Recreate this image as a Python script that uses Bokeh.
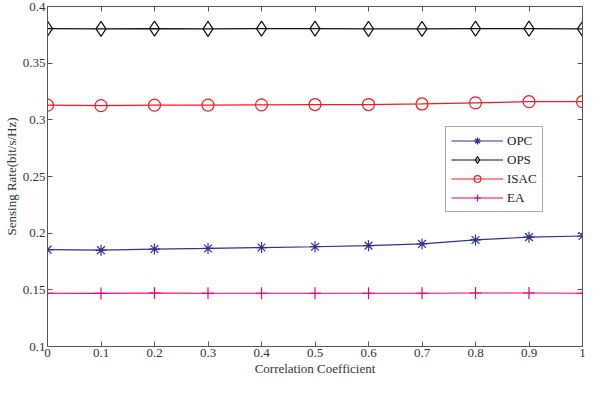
from bokeh.plotting import figure
from bokeh.models import FixedTicker, CustomJSTickFormatter, Range1d, LinearAxis
from bokeh.embed import file_html
from bokeh.resources import INLINE

corr = [0.0, 0.1, 0.2, 0.3, 0.4, 0.5, 0.6, 0.7, 0.8, 0.9, 1.0]
opc = [0.1855, 0.185, 0.186, 0.1865, 0.1873, 0.188, 0.189, 0.1905, 0.194, 0.1965, 0.1975]
ops = [0.3805, 0.3803, 0.3805, 0.3803, 0.3805, 0.3805, 0.3803, 0.3803, 0.3805, 0.3805, 0.3803]
isac = [0.313, 0.3125, 0.313, 0.313, 0.3132, 0.3135, 0.3135, 0.314, 0.315, 0.316, 0.316]
ea = [0.147, 0.1468, 0.1472, 0.147, 0.147, 0.147, 0.147, 0.147, 0.1472, 0.1472, 0.147]

x_ticks = [0.0, 0.1, 0.2, 0.3, 0.4, 0.5, 0.6, 0.7, 0.8, 0.9, 1.0]
y_ticks = [0.1, 0.15, 0.2, 0.25, 0.3, 0.35, 0.4]
x_min, x_max = 0.0, 1.0
y_min, y_max = 0.1, 0.4

FONT = "Liberation Serif"
AX = "#555555"

p = figure(width=586, height=378, output_backend="svg", toolbar_location=None,
           x_range=Range1d(x_min, x_max), y_range=Range1d(y_min, y_max),
           min_border_left=0, min_border_right=4, min_border_top=6, min_border_bottom=0)
p.grid.visible = False
p.outline_line_color = AX
p.outline_line_width = 1
p.background_fill_color = "white"
p.border_fill_color = "white"

fmt = CustomJSTickFormatter(code="""
var s = tick.toFixed(2);
s = s.replace(/0+$/, '').replace(/\\.$/, '');
return s;
""")
blank = CustomJSTickFormatter(code="return '';")

def style(ax, shown=True):
    ax.axis_line_color = AX
    ax.major_tick_line_color = AX
    ax.major_tick_in = 5
    ax.major_tick_out = 0
    ax.minor_tick_line_color = None
    ax.major_label_text_font = FONT
    ax.major_label_text_color = "#333333"
    ax.major_label_text_font_size = "13px"
    ax.major_label_standoff = 2 if shown else 0
    ax.axis_label_text_font = FONT
    ax.axis_label_text_font_style = "normal"
    ax.axis_label_text_font_size = "13px"
    ax.axis_label_text_color = "#333333"
    ax.axis_label_standoff = 1

p.xaxis.ticker = FixedTicker(ticks=x_ticks)
p.yaxis.ticker = FixedTicker(ticks=y_ticks)
p.xaxis.formatter = fmt
p.yaxis.formatter = fmt
p.xaxis.axis_label = "Correlation Coefficient"
p.yaxis.axis_label = "Sensing Rate(bit/s/Hz)"
style(p.xaxis[0])
style(p.yaxis[0])

top = LinearAxis(ticker=FixedTicker(ticks=x_ticks), formatter=blank)
right = LinearAxis(ticker=FixedTicker(ticks=y_ticks), formatter=blank)
style(top, shown=False)
style(right, shown=False)
p.add_layout(top, "above")
p.add_layout(right, "right")

series = [
    ("OPC", opc, "#2E3192", "asterisk", 11),
    ("OPS", ops, "#111111", "diamond", 15),
    ("ISAC", isac, "#EE1C25", "circle", 12),
    ("EA", ea, "#E6007E", "cross", 12),
]
for name, vals, col, mk, sz in series:
    p.line(corr, vals, line_color=col, line_width=1.2, legend_label=name)
    p.scatter(corr, vals, marker=mk, size=sz, line_color=col, fill_color=None,
              line_width=1.2, legend_label=name)

lg = p.legend[0]
lg.location = (398, 134)
lg.label_text_font = FONT
lg.label_text_font_size = "13px"
lg.label_text_color = "#222222"
lg.border_line_color = "#555555"
lg.border_line_width = 1
lg.background_fill_alpha = 1
lg.glyph_width = 52
lg.glyph_height = 17
lg.label_height = 17
lg.spacing = 2
lg.padding = 5
lg.margin = 0
lg.label_standoff = 4

open("out.html", "w").write(file_html(p, INLINE))
